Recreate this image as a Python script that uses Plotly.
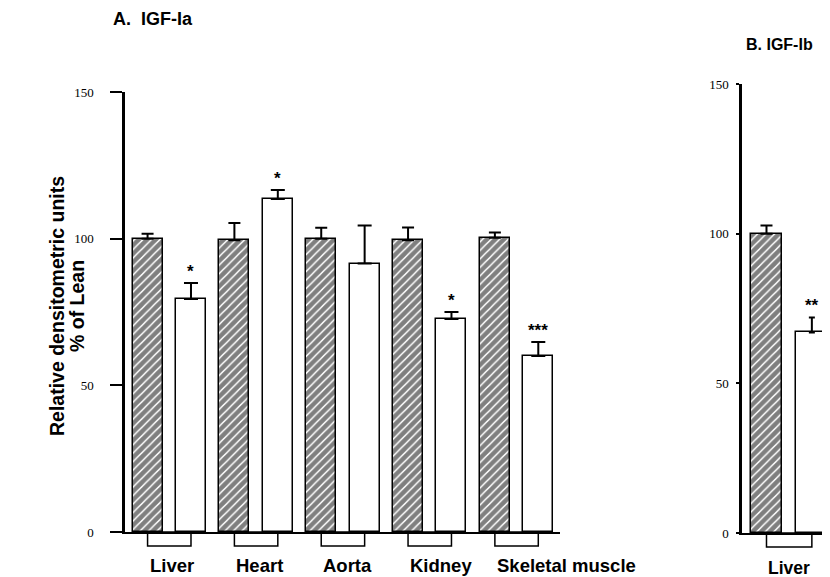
import plotly.graph_objects as go

# ---------------- data ----------------
categories_a = ["Liver", "Heart", "Aorta", "Kidney", "Skeletal muscle"]
lean_a = [100, 99.5, 100, 99.5, 100.3]
lean_err_a = [1.7, 5.8, 3.7, 4.3, 1.8]
obese_a = [79.4, 113.5, 91.5, 72.6, 60.0]
obese_err_a = [5.5, 3.1, 13.0, 2.4, 4.8]
sig_a = ["*", "*", "", "*", "***"]

categories_b = ["Liver"]
lean_b = [100]
lean_err_b = [2.7]
obese_b = [67.0]
obese_err_b = [5.0]
sig_b = ["**"]

y_ticks = [0, 50, 100, 150]

# ---------------- layout constants (screen pixels) ----------------
W, H = 830, 577
PAGE_OFF = 8  # page body margin shifts the figure
BOLD = "Liberation Sans, Arial, sans-serif"
SERIF = "Liberation Serif, Times New Roman, serif"
OFF = 0.25
BW = 0.345


def px_x(p):
    return (p - PAGE_OFF) / W


def px_y(p):
    return 1 - (p - PAGE_OFF) / H


fig = go.Figure()

hatch = dict(shape="/", fgcolor="black", bgcolor="white", size=6, solidity=0.75)


def add_panel(cats, lean, lean_err, obese, obese_err, sig, xa, ya, capw_lean, capw_obese):
    idx = list(range(len(cats)))
    xl = [i - OFF for i in idx]
    xo = [i + OFF for i in idx]
    fig.add_trace(go.Bar(
        x=xl, y=lean, width=BW, xaxis=xa, yaxis=ya,
        marker=dict(color="white", pattern=hatch, line=dict(color="black", width=1.5)),
        error_y=dict(type="data", array=lean_err, arrayminus=[0] * len(idx), symmetric=False,
                     color="black", thickness=2, width=capw_lean),
        showlegend=False, hoverinfo="skip"))
    fig.add_trace(go.Bar(
        x=xo, y=obese, width=BW, xaxis=xa, yaxis=ya,
        marker=dict(color="white", line=dict(color="black", width=1.5)),
        error_y=dict(type="data", array=obese_err, arrayminus=[0] * len(idx), symmetric=False,
                     color="black", thickness=2, width=capw_obese),
        showlegend=False, hoverinfo="skip"))
    xref = "x" if xa == "x" else "x2"
    yref = "y" if ya == "y" else "y2"
    for i, s in enumerate(sig):
        if s:
            fig.add_annotation(x=xo[i], y=obese[i] + obese_err[i], xref=xref, yref=yref,
                               text="<b>" + s + "</b>", showarrow=False, yanchor="bottom",
                               yshift=0, font=dict(family=BOLD, size=17, color="black"))
    return idx


# ---------------- Panel A ----------------
idx_a = add_panel(categories_a, lean_a, lean_err_a, obese_a, obese_err_a, sig_a, "x", "y", 6, 7)
# ---------------- Panel B ----------------
idx_b = add_panel(categories_b, lean_b, lean_err_b, obese_b, obese_err_b, sig_b, "x2", "y2", 6, 3)

axA_y0, axA_y1 = 532, 92
axB_y0, axB_y1 = 533, 84

fig.update_layout(
    width=W, height=H,
    margin=dict(l=0, r=0, t=0, b=0, autoexpand=False),
    paper_bgcolor="white", plot_bgcolor="white",
    barmode="overlay", bargap=0,
    xaxis=dict(domain=[px_x(125), px_x(560)], range=[-0.51, 4.50], showgrid=False,
               zeroline=False, showline=True, linecolor="black", linewidth=2,
               showticklabels=False, ticks="", automargin=False),
    yaxis=dict(domain=[px_y(axA_y0), px_y(axA_y1)], range=[0, 150], tickvals=y_ticks,
               showgrid=False, zeroline=False, showline=True, linecolor="black", linewidth=2.5,
               ticks="outside", ticklen=12, tickwidth=1.5, tickcolor="black",
               ticklabelstandoff=14, automargin=False,
               tickfont=dict(family=SERIF, size=13, color="black")),
    xaxis2=dict(domain=[px_x(742), px_x(830)], range=[-0.52, 0.45], showgrid=False,
                zeroline=False, showline=True, linecolor="black", linewidth=2,
                showticklabels=False, ticks="", anchor="y2", automargin=False),
    yaxis2=dict(domain=[px_y(axB_y0), px_y(axB_y1)], range=[0, 150], tickvals=y_ticks,
                showgrid=False, zeroline=False, showline=True, linecolor="black", linewidth=2.5,
                ticks="outside", ticklen=3, tickwidth=1.5, tickcolor="black",
                ticklabelstandoff=5, anchor="x2", automargin=False,
                tickfont=dict(family=SERIF, size=13, color="black")),
)

# boxes hanging below x axis + category labels
BOX_H = 14
for i, c in zip(idx_a, categories_a):
    fig.add_shape(type="rect", xref="x", yref="paper", x0=i - OFF, x1=i + OFF,
                  y0=px_y(axA_y0), y1=px_y(axA_y0 + BOX_H),
                  line=dict(color="black", width=1.5), fillcolor="white", layer="below")
    fig.add_annotation(x=i - OFF, y=px_y(565), xref="x", yref="paper", text="<b>" + c + "</b>",
                       showarrow=False, xanchor="left", yanchor="middle",
                       font=dict(family=BOLD, size=18.5, color="black"))
for i, c in zip(idx_b, categories_b):
    fig.add_shape(type="rect", xref="x2", yref="paper", x0=i - OFF, x1=i + OFF,
                  y0=px_y(axB_y0), y1=px_y(axB_y0 + BOX_H),
                  line=dict(color="black", width=1.5), fillcolor="white", layer="below")
    fig.add_annotation(x=i - OFF, y=px_y(568), xref="x2", yref="paper", text="<b>" + c + "</b>",
                       showarrow=False, xanchor="left", yanchor="middle",
                       font=dict(family=BOLD, size=17.5, color="black"))

# panel titles
fig.add_annotation(x=px_x(111), y=px_y(19), xref="paper", yref="paper",
                   text="<b>A.  IGF-Ia</b>", showarrow=False, xanchor="left", yanchor="middle",
                   font=dict(family=BOLD, size=18, color="black"))
fig.add_annotation(x=px_x(744), y=px_y(44), xref="paper", yref="paper",
                   text="<b>B. IGF-Ib</b>", showarrow=False, xanchor="left", yanchor="middle",
                   font=dict(family=BOLD, size=16, color="black"))

# y-axis title (two lines)
fig.add_annotation(x=px_x(57), y=px_y(306), xref="paper", yref="paper",
                   text="<b>Relative densitometric units</b>", showarrow=False,
                   textangle=-90, xanchor="center", yanchor="middle",
                   font=dict(family=BOLD, size=19.5, color="black"))
fig.add_annotation(x=px_x(77), y=px_y(306), xref="paper", yref="paper",
                   text="<b>% of Lean</b>", showarrow=False,
                   textangle=-90, xanchor="center", yanchor="middle",
                   font=dict(family=BOLD, size=19.5, color="black"))

fig.write_html("out.html")
